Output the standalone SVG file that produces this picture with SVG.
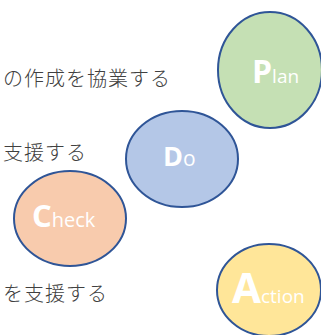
<svg xmlns="http://www.w3.org/2000/svg" width="321" height="335" viewBox="0 0 321 335">
<style>
.n{stroke:#2F5597;stroke-width:2}
.big{font-family:"Open Sans","Noto Sans",sans-serif;font-weight:700;fill:#fff}
.sm{font-family:"Open Sans","Noto Sans",sans-serif;font-weight:400;fill:#fff}
.jp{font-family:"Noto Sans CJK JP","Noto Sans CJK SC",sans-serif;font-size:20px;font-weight:300;letter-spacing:1px;fill:#404040}
</style>
<rect width="321" height="335" fill="#fff"/>
<g id="texts">
<text class="jp" x="3" y="86">の作成を協業する</text>
<text class="jp" x="3" y="160">支援する</text>
<text class="jp" x="3" y="300.5">を支援する</text>
</g>
<g id="plan">
<ellipse class="n" cx="270" cy="70" rx="52" ry="58" fill="#C5E0B4"/>
<text x="252" y="83"><tspan class="big" font-size="32">P</tspan><tspan class="sm" font-size="19">lan</tspan></text>
</g>
<g id="do">
<ellipse class="n" cx="182" cy="159" rx="56" ry="48" fill="#B4C7E7"/>
<text x="163" y="166"><tspan class="big" font-size="27">D</tspan><tspan class="sm" font-size="21">o</tspan></text>
</g>
<g id="check">
<ellipse class="n" cx="70" cy="218.5" rx="56" ry="47.5" fill="#F8CBAD"/>
<text x="32" y="227"><tspan class="big" font-size="31">C</tspan><tspan class="sm" font-size="20">heck</tspan></text>
</g>
<g id="action">
<ellipse class="n" cx="269" cy="290" rx="52" ry="46" fill="#FFE699"/>
<text x="232" y="303"><tspan class="big" font-size="42">A</tspan><tspan class="sm" font-size="19">ction</tspan></text>
</g>
<g id="connectors"/>
</svg>
